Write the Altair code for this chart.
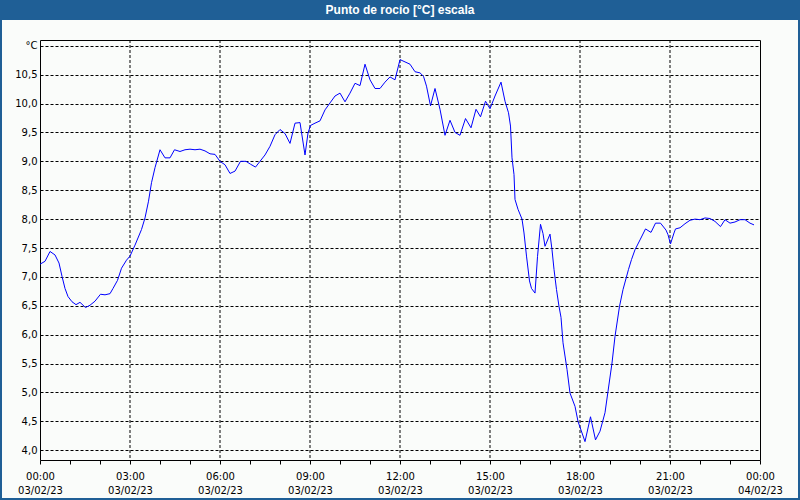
import altair as alt
import pandas as pd

TITLE = "Punto de rocío [°C] escala"
DAY = "2023-02-03"

# minutes after 00:00 on 03/02/23
minutes = [0, 10, 20, 30, 38, 44, 50, 56, 64, 72, 80, 91, 100, 110, 121, 130, 140, 146, 155, 163,
           173, 180, 190, 203, 210, 217, 223, 230, 240, 250, 260, 269, 280, 290, 300, 310, 320, 330,
           340, 350, 360, 370, 380, 390, 401, 412, 421, 431, 440, 450, 460, 470, 480, 490, 500, 510,
           520, 530, 536, 541, 550, 560, 570, 580, 590, 600, 610, 620, 630, 640, 650, 660, 670, 680,
           690, 700, 710, 720, 730, 740, 750, 760, 767, 773, 781, 790, 800, 810, 820, 830, 840, 851,
           862, 872, 881, 891, 900, 910, 922, 930, 937, 941, 944, 948, 950, 956, 964, 968, 973, 979,
           983, 990, 995, 1001, 1006, 1010, 1020, 1024, 1028, 1033, 1038, 1042, 1046, 1054, 1060,
           1070, 1076, 1082, 1090, 1101, 1111, 1120, 1130, 1136, 1144, 1150, 1159, 1166, 1177, 1183,
           1190, 1200, 1211, 1222, 1231, 1241, 1252, 1256, 1261, 1268, 1271, 1280, 1290, 1300, 1310,
           1320, 1330, 1340, 1350, 1361, 1370, 1380, 1390, 1400, 1410, 1420, 1428]

dew_point = [7.22, 7.27, 7.44, 7.38, 7.24, 7.01, 6.80, 6.66, 6.57, 6.52, 6.56, 6.47, 6.51, 6.58, 6.70,
             6.69, 6.71, 6.80, 6.94, 7.15, 7.29, 7.36, 7.55, 7.82, 8.02, 8.31, 8.63, 8.89, 9.20, 9.06,
             9.06, 9.20, 9.17, 9.20, 9.21, 9.20, 9.21, 9.18, 9.13, 9.12, 9.00, 8.94, 8.79, 8.83, 9.00,
             9.00, 8.95, 8.90, 9.00, 9.11, 9.26, 9.46, 9.55, 9.48, 9.31, 9.66, 9.67, 9.11, 9.49, 9.62,
             9.66, 9.70, 9.89, 10.01, 10.13, 10.18, 10.03, 10.18, 10.35, 10.31, 10.68, 10.41, 10.26,
             10.26, 10.37, 10.46, 10.41, 10.76, 10.72, 10.68, 10.55, 10.53, 10.47, 10.30, 9.96, 10.26,
             9.90, 9.45, 9.71, 9.50, 9.45, 9.74, 9.58, 9.90, 9.77, 10.04, 9.91, 10.13, 10.37, 10.04,
             9.84, 9.61, 9.06, 8.77, 8.34, 8.17, 8.00, 7.76, 7.36, 6.93, 6.80, 6.72, 7.35, 7.91, 7.75,
             7.53, 7.74, 7.47, 7.13, 6.78, 6.49, 6.30, 5.86, 5.40, 4.99, 4.76, 4.50, 4.35, 4.15, 4.58,
             4.18, 4.33, 4.65, 5.02, 5.51, 5.97, 6.49, 6.78, 7.13, 7.30, 7.47, 7.64, 7.83, 7.77, 7.93,
             7.93, 7.81, 7.73, 7.57, 7.76, 7.83, 7.85, 7.92, 7.98, 8.00, 7.99, 8.02, 8.01, 7.96, 7.87,
             7.99, 7.93, 7.95, 7.99, 7.99, 7.93, 7.90]

y_ticks = [4.0, 4.5, 5.0, 5.5, 6.0, 6.5, 7.0, 7.5, 8.0, 8.5, 9.0, 9.5, 10.0, 10.5, 11.0]
y_domain = [3.832, 11.099]
tick_hours = list(range(0, 25))
grid_hours = [3, 6, 9, 12, 15, 18, 21]

base_time = pd.Timestamp(DAY + "T00:00:00Z")


def iso(td_minutes):
    return (base_time + pd.Timedelta(minutes=td_minutes)).strftime("%Y-%m-%dT%H:%M:%SZ")


df = pd.DataFrame({"time": [iso(m) for m in minutes], "value": dew_point})
grid_df = pd.DataFrame({"time": [iso(h * 60) for h in grid_hours]})

FONT = "DejaVu Sans"
BAR_BLUE = "#1F5F96"

x_dom = [iso(0), iso(24 * 60)]
x_scale = alt.Scale(type="utc", domain=x_dom, nice=False)

x_axis = alt.Axis(
    title=None,
    values=[iso(h * 60) for h in tick_hours],
    labelExpr="utchours(datum.value) % 3 == 0 ? [utcFormat(datum.value, '%H:%M'), utcFormat(datum.value, '%d/%m/%y')] : ''",
    labelFlush=False,
    labelOverlap=False,
    labelFont=FONT, labelFontSize=10, labelColor="#000000",
    labelLineHeight=14.5, labelPadding=7,
    tickSize=4, tickColor="#000000",
    domain=False, grid=False,
)

y_axis = alt.Axis(
    title=None, values=y_ticks,
    labelExpr="datum.value == 11 ? '°C' : replace(format(datum.value, '.1f'), '.', ',')",
    labelFont=FONT, labelFontSize=10, labelColor="#000000",
    labelPadding=3, ticks=False, domain=False,
    grid=True, gridColor="#000000", gridDash=[3, 2], gridWidth=1,
)

vgrid = alt.Chart(grid_df).mark_rule(color="#000000", strokeWidth=1, strokeDash=[3, 2]).encode(
    x=alt.X("time:T", scale=x_scale, axis=x_axis)
)

line = alt.Chart(df).mark_line(color="#0000FF", strokeWidth=1).encode(
    x=alt.X("time:T", scale=x_scale, axis=x_axis),
    y=alt.Y("value:Q", scale=alt.Scale(domain=y_domain, nice=False, zero=False), axis=y_axis),
)

one = pd.DataFrame({"label": [TITLE]})

title_bar = alt.Chart(one).mark_rect(color=BAR_BLUE).encode(
    x=alt.value(-40), x2=alt.value(760), y=alt.value(-40), y2=alt.value(-20)
)
title_text = alt.Chart(one).mark_text(
    color="white", font="Liberation Sans", fontSize=12, fontWeight="bold",
    align="center", baseline="middle"
).encode(x=alt.value(360), y=alt.value(-30), text="label:N")

border = alt.Chart(one).mark_rect(fill=None, stroke=BAR_BLUE, strokeWidth=2).encode(
    x=alt.value(-39), x2=alt.value(759), y=alt.value(-40), y2=alt.value(459)
)

chart = alt.layer(vgrid, line, title_bar, border, title_text).properties(
    width=720, height=420,
    autosize="none",
    padding={"left": 40, "top": 40, "right": 40, "bottom": 40},
    background="#FAFCFA",
).configure_view(stroke="#000000", strokeWidth=1)

chart.save("out.html", embed_options={"renderer": "svg", "actions": False})
